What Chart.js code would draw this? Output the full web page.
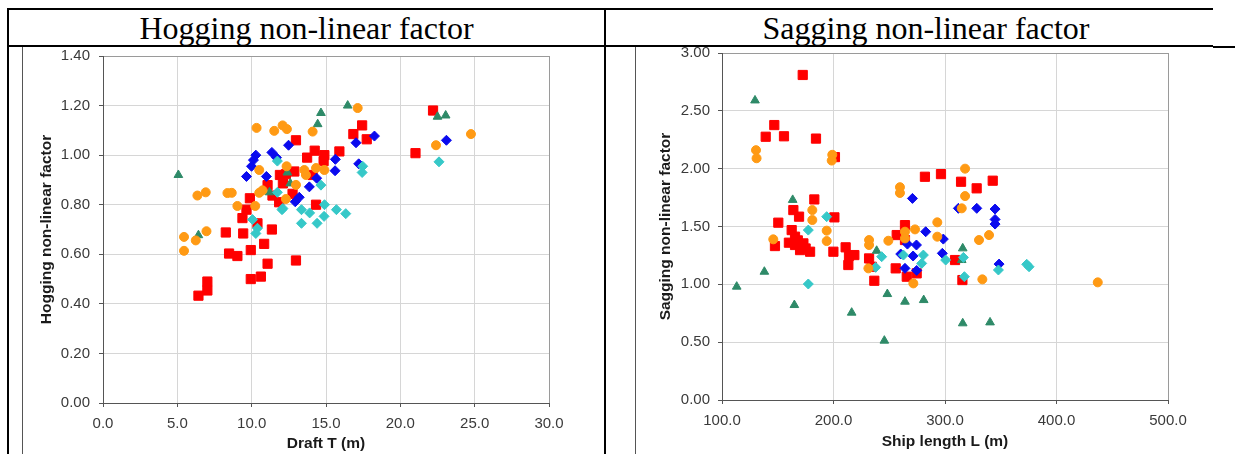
<!DOCTYPE html>
<html>
<head>
<meta charset="utf-8">
<script src="https://cdn.jsdelivr.net/npm/chart.js@4.4.1/dist/chart.umd.min.js"></script>
<style>
  body { margin: 0; background: #fff; width: 1245px; height: 454px; overflow: hidden; position: relative; }
  .line { position: absolute; background: #000; }
  .thin { position: absolute; background: #555; }
  .head { position: absolute; top: 10px; height: 36px; display: flex; align-items: center; justify-content: center;
          font-family: "Liberation Serif", "Times New Roman", serif; font-size: 32px; color: #000; }
  .box { position: absolute; }
</style>
</head>
<body>
<div class="head" style="left:8px;width:597px">Hogging non-linear factor</div>
<div class="head" style="left:606px;width:640px">Sagging non-linear factor</div>

<div class="box" style="left:24px;top:36px;width:555px;height:418px"><canvas id="hog"></canvas></div>
<div class="box" style="left:636px;top:33px;width:562px;height:421px"><canvas id="sag"></canvas></div>

<!-- table rules -->
<div class="line" style="left:7px;top:8px;width:1206px;height:2px"></div>
<div class="line" style="left:7px;top:45px;width:1206px;height:2px"></div>
<div class="line" style="left:1213px;top:46px;width:22px;height:2px"></div>
<div class="line" style="left:7px;top:8px;width:2px;height:446px"></div>
<div class="line" style="left:604px;top:8px;width:2px;height:446px"></div>
<div class="thin" style="left:22px;top:47px;width:1px;height:407px"></div>
<div class="thin" style="left:635px;top:47px;width:1px;height:407px"></div>

<script>
// ---- Hogging: draft T (m) vs factor ----
const hogXTicks = [0, 5, 10, 15, 20, 25, 30];
const hogYTicks = [0, 0.2, 0.4, 0.6, 0.8, 1.0, 1.2, 1.4];

const hogOrange = [[17.13,1.19],[10.33,1.11],[11.52,1.098],[12.08,1.12],[12.37,1.105],[14.1,1.095],[12.35,0.955],
  [10.51,0.94],[13.54,0.94],[14.33,0.948],[14.89,0.94],[13.65,0.92],[12.98,0.88],[10.51,0.848],[10.73,0.858],
  [12.3,0.823],[10.24,0.795],[9.04,0.795],[6.35,0.837],[6.91,0.85],[8.37,0.847],[8.66,0.848],[5.45,0.67],
  [5.45,0.614],[6.24,0.656],[6.96,0.693],[22.4,1.04],[24.75,1.085]];
const hogCyan = [[11.73,0.976],[11.73,0.85],[12.04,0.78],[13.35,0.78],[13.9,0.767],[14.9,0.8],[14.87,0.753],
  [15.7,0.78],[16.33,0.764],[13.35,0.725],[14.4,0.725],[10.06,0.74],[10.39,0.705],[10.28,0.684],[14.66,0.879],
  [17.47,0.955],[17.43,0.93],[22.6,0.973],[12.1,0.785]];
const hogGreen = [[5.07,0.92],[16.46,1.2],[14.66,1.17],[14.44,1.125],[22.5,1.155],[23.05,1.16],[6.42,0.677],
  [12.4,0.93],[12.6,0.886],[11.2,0.85]];
const hogBlue = [[12.48,1.04],[10.28,1.0],[10.12,0.98],[9.99,0.955],[9.65,0.914],[11.36,1.011],[11.67,0.99],
  [10.99,0.914],[15.63,0.983],[15.61,0.937],[14.37,0.907],[13.88,0.872],[12.93,0.812],[17.02,1.05],[18.26,1.077],
  [17.2,0.965],[23.1,1.06],[13.2,0.83]];
const hogRed = [[12.98,1.06],[17.43,1.12],[16.84,1.085],[17.74,1.064],[21.02,1.008],[22.2,1.18],[15.9,1.015],
  [14.24,1.018],[14.89,1.0],[13.73,0.99],[14.84,0.976],[12.87,0.934],[11.9,0.92],[12.3,0.923],[14.1,0.92],
  [12.1,0.886],[11.07,0.879],[12.75,0.844],[11.4,0.837],[11.85,0.81],[9.88,0.826],[9.65,0.78],[9.38,0.746],
  [14.33,0.8],[10.39,0.725],[11.36,0.7],[8.26,0.688],[9.43,0.684],[10.84,0.642],[8.48,0.603],[9.04,0.593],
  [9.94,0.617],[11.07,0.562],[12.98,0.575],[9.94,0.5],[10.62,0.51],[7.02,0.49],[7.02,0.454],[6.42,0.433]];

// ---- Sagging: ship length L (m) vs factor ----
const sagXTicks = [100, 200, 300, 400, 500];
const sagYTicks = [0, 0.5, 1.0, 1.5, 2.0, 2.5, 3.0];

const sagOrange = [[130.5,2.16],[131,2.09],[198.9,2.12],[198.4,2.07],[259.6,1.84],[259.6,1.79],[318,2.0],
  [318,1.763],[181,1.642],[181,1.556],[193.9,1.464],[193.9,1.374],[146,1.389],[231.9,1.383],[231.9,1.34],
  [249.2,1.377],[231.3,1.138],[264.1,1.455],[264.1,1.397],[273.1,1.475],[293.1,1.536],[293.1,1.412],
  [315,1.657],[330.5,1.383],[339.5,1.426],[333.5,1.043],[271.6,1.008],[437,1.017]];
const sagCyan = [[193.9,1.585],[177.4,1.469],[177.4,1.003],[243.2,1.239],[237.8,1.147],[262.7,1.253],
  [280.6,1.253],[279.1,1.181],[300.6,1.21],[316.5,1.233],[317.4,1.066],[347.9,1.124],[373.3,1.173],[375.4,1.152]];
const sagGreen = [[129.6,2.59],[163.4,1.73],[138,1.109],[113.2,0.98],[164.9,0.821],[216.3,0.755],[245.6,0.513],
  [248.3,0.916],[264.1,0.85],[280.9,0.864],[315.9,0.663],[340.4,0.671],[238.7,1.29],[315.9,1.311],[315,1.21]];
const sagBlue = [[270.8,1.743],[312,1.657],[328.5,1.657],[344.9,1.651],[344.9,1.561],[344.9,1.521],[282.7,1.455],
  [298.5,1.391],[274.4,1.34],[266.3,1.348],[260.3,1.262],[271.4,1.245],[297.6,1.268],[264.1,1.138],
  [348.5,1.175],[274.6,1.12]];
const sagRed = [[172.4,2.81],[139.2,2.276],[146.9,2.377],[155.6,2.28],[184.3,2.26],[201.3,2.1],[282,1.93],
  [296.4,1.953],[314.4,1.887],[328.4,1.83],[342.8,1.896],[182.8,1.734],[164,1.642],[169.1,1.585],[150.5,1.533],
  [200.8,1.579],[162.5,1.469],[165.5,1.412],[165.5,1.34],[173,1.354],[179,1.282],[170,1.296],[147.5,1.331],
  [168,1.38],[175,1.31],[160,1.36],[199.9,1.282],[210.9,1.32],[213.9,1.245],[218.7,1.253],[213.3,1.167],
  [231.9,1.224],[234.3,1.152],[236.6,1.031],[264.1,1.512],[256.7,1.426],[264.1,1.383],[255.8,1.138],
  [265.7,1.066],[274.6,1.095],[309,1.21],[315.6,1.037]];

const FONT = '"Liberation Sans", Arial, sans-serif';

function series(points, color, style, r) {
  return {
    data: points.map(p => ({ x: p[0], y: p[1] })),
    backgroundColor: color, borderColor: color, borderWidth: 1,
    pointStyle: style, pointRadius: r
  };
}

// geo: layout padding and forced axis box sizes so the plot area lands where the original's does
function makeChart(id, sets, xTicks, yTicks, xDec, yDec, xTitle, yTitle, geo) {
  const gridColor = max => c => (c.tick && c.tick.value === max) ? '#9a9a9a' : '#d6d6d6';
  new Chart(document.getElementById(id), {
    type: 'scatter',
    data: { datasets: sets },
    options: {
      responsive: true, maintainAspectRatio: false, animation: false, events: [],
      layout: { padding: { left: 0, right: geo.right, top: geo.top, bottom: 0 } },
      plugins: { legend: { display: false }, tooltip: { enabled: false } },
      scales: {
        x: {
          type: 'linear', min: xTicks[0], max: xTicks[xTicks.length - 1],
          afterBuildTicks: s => { s.ticks = xTicks.map(v => ({ value: v })); },
          afterFit: s => { s.height = geo.xh; },
          ticks: { callback: v => Number(v).toFixed(xDec), color: '#3a3a3a', padding: 8, maxRotation: 0,
                   font: { family: FONT, size: 15 } },
          grid: { color: gridColor(xTicks[xTicks.length - 1]), tickLength: 4, tickColor: '#555' },
          border: { color: '#555', width: 1 },
          title: { display: true, text: xTitle, color: '#1a1a1a', padding: { top: 0, bottom: geo.xtp },
                   font: { family: FONT, size: 15.5, weight: 'bold' } }
        },
        y: {
          type: 'linear', min: yTicks[0], max: yTicks[yTicks.length - 1],
          afterBuildTicks: s => { s.ticks = yTicks.map(v => ({ value: v })); },
          afterFit: s => { s.width = geo.yw; },
          ticks: { callback: v => Number(v).toFixed(yDec), color: '#3a3a3a', padding: geo.ypad,
                   font: { family: FONT, size: 15 } },
          grid: { color: gridColor(yTicks[yTicks.length - 1]), tickLength: 4, tickColor: '#555' },
          border: { color: '#555', width: 1 },
          title: { display: true, text: yTitle, color: '#1a1a1a', padding: { top: geo.ytp, bottom: 0 },
                   font: { family: FONT, size: 15.5, weight: 'bold' } }
        }
      }
    }
  });
}

const ORANGE = '#ff9a14', CYAN = '#36c8c8', GREEN = '#2e8a68', BLUE = '#0a0aee', RED = '#ff0000';

makeChart('hog', [
  series(hogOrange, ORANGE, 'circle', 4.5),
  series(hogCyan, CYAN, 'rectRot', 5),
  series(hogGreen, GREEN, 'triangle', 5),
  series(hogBlue, BLUE, 'rectRot', 5),
  series(hogRed, RED, 'rect', 6.5)
], hogXTicks, hogYTicks, 1, 2, 'Draft T (m)', 'Hogging non-linear factor',
  { right: 30, top: 20, xh: 51, yw: 79, ypad: 9, xtp: 1, ytp: 13 });

makeChart('sag', [
  series(sagOrange, ORANGE, 'circle', 4.5),
  series(sagCyan, CYAN, 'rectRot', 5),
  series(sagGreen, GREEN, 'triangle', 5),
  series(sagBlue, BLUE, 'rectRot', 5),
  series(sagRed, RED, 'rect', 6.5)
], sagXTicks, sagYTicks, 1, 2, 'Ship length L (m)', 'Sagging non-linear factor',
  { right: 30, top: 20, xh: 54, yw: 86, ypad: 8, xtp: 3, ytp: 20 });
</script>
</body>
</html>
